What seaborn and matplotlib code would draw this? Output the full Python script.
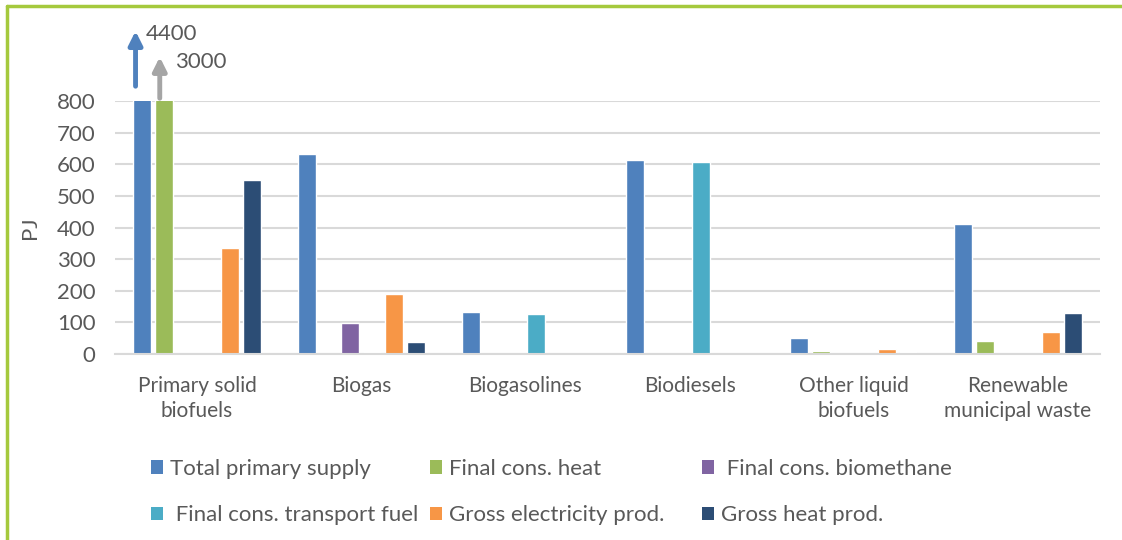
import pandas as pd
import seaborn as sb
import matplotlib.pyplot as plt
from matplotlib.patches import Patch
from matplotlib.lines import Line2D

## bio energy flows per fuel type (PJ), first two bars run off the chart

categories = ["Primary solid\nbiofuels", "Biogas", "Biogasolines", "Biodiesels",
              "Other liquid\nbiofuels", "Renewable\nmunicipal waste"]
series = ["Total primary supply", "Final cons. heat", " Final cons. biomethane",
          " Final cons. transport fuel", "Gross electricity prod.", "Gross heat prod."]

total_primary = [4400, 632, 133, 615, 50, 410]
final_heat = [3000, 0, 0, 0, 8, 42]
final_biomethane = [0, 98, 0, 0, 0, 0]
final_transport = [0, 5, 125, 607, 0, 0]
gross_elec = [335, 190, 0, 0, 17, 70]
gross_heat = [550, 37, 0, 0, 7, 130]

colors = ["#4F81BD", "#9BBB59", "#8064A2", "#4BACC6", "#F79646", "#2C4D75"]
text_col = "#595959"
grid_col = "#D9D9D9"

all_vals = [total_primary, final_heat, final_biomethane, final_transport, gross_elec, gross_heat]
rows = []
for s, vals in zip(series, all_vals):
    for c, v in zip(categories, vals):
        rows.append({"category": c, "series": s, "PJ": v})
df = pd.DataFrame(rows)

sb.set_style("white")
plt.rcParams["font.family"] = ["Lato", "DejaVu Sans"]

fig = plt.figure(figsize=(11.22, 5.4), dpi=100)
ax = fig.add_axes([115 / 1122, 186 / 540, (1100 - 115) / 1122, 253 / 540])

sb.barplot(data=df, x="category", y="PJ", hue="series", palette=colors,
           width=0.8, gap=0.18, ax=ax, legend=False, saturation=1)

ax.set_ylim(0, 800)
ax.set_yticks(range(0, 801, 100))
ax.yaxis.grid(True, color=grid_col, lw=1.5)
ax.set_axisbelow(True)
for sp in ["top", "right", "left"]:
    ax.spines[sp].set_visible(False)
ax.spines["bottom"].set_color(grid_col)
ax.spines["bottom"].set_linewidth(1.5)
ax.tick_params(axis="both", length=0, colors=text_col)
ax.tick_params(axis="y", pad=14, labelsize=16)
ax.tick_params(axis="x", pad=16, labelsize=15)
for lab in ax.get_xticklabels():
    lab.set_linespacing(1.3)
ax.set_xlabel("")
ax.set_ylabel("PJ", fontsize=16, color=text_col, labelpad=12)

# arrows for the two bars that are off scale
blue_bar = ax.containers[0][0]
green_bar = ax.containers[1][0]
bx = blue_bar.get_x() + blue_bar.get_width() * 0.12
gx = green_bar.get_x() + green_bar.get_width() * 0.25
ax.annotate("", xy=(bx, 1030), xytext=(bx, 838), annotation_clip=False,
            arrowprops=dict(arrowstyle="-|>,head_width=0.4,head_length=0.8",
                            color=colors[0], lw=3.5))
ax.annotate("", xy=(gx, 948), xytext=(gx, 800), annotation_clip=False,
            arrowprops=dict(arrowstyle="-|>,head_width=0.4,head_length=0.8",
                            color="#A5A5A5", lw=3.5))
ax.text(bx + 0.06, 1012, str(total_primary[0]), fontsize=16, color=text_col,
        va="center", clip_on=False)
ax.text(gx + 0.09, 922, str(final_heat[0]), fontsize=16, color=text_col,
        va="center", clip_on=False)

# legend as three columns, each one placed by hand (gaps differ in the original)
col_x = [151, 430, 702]
for k, x0 in enumerate(col_x):
    idx = [k, k + 3]
    handles = [Patch(facecolor=colors[i], edgecolor="none") for i in idx]
    leg = fig.legend(handles, [series[i] for i in idx], loc="upper left",
                     bbox_to_anchor=(x0 / 1122, 1 - 459 / 540), frameon=False,
                     fontsize=16, labelcolor=text_col, handlelength=0.55,
                     handleheight=0.55, handletextpad=0.3, labelspacing=1.18,
                     borderpad=0, borderaxespad=0)

# light green frame on the left and top
fig.add_artist(Line2D([7 / 1122, 7 / 1122], [0, 1 - 6 / 540], color="#A5C93D", lw=2.5,
                      transform=fig.transFigure))
fig.add_artist(Line2D([7 / 1122, 1], [1 - 6 / 540, 1 - 6 / 540], color="#A5C93D", lw=2.5,
                      transform=fig.transFigure))

plt.savefig("out.png", dpi=100)
